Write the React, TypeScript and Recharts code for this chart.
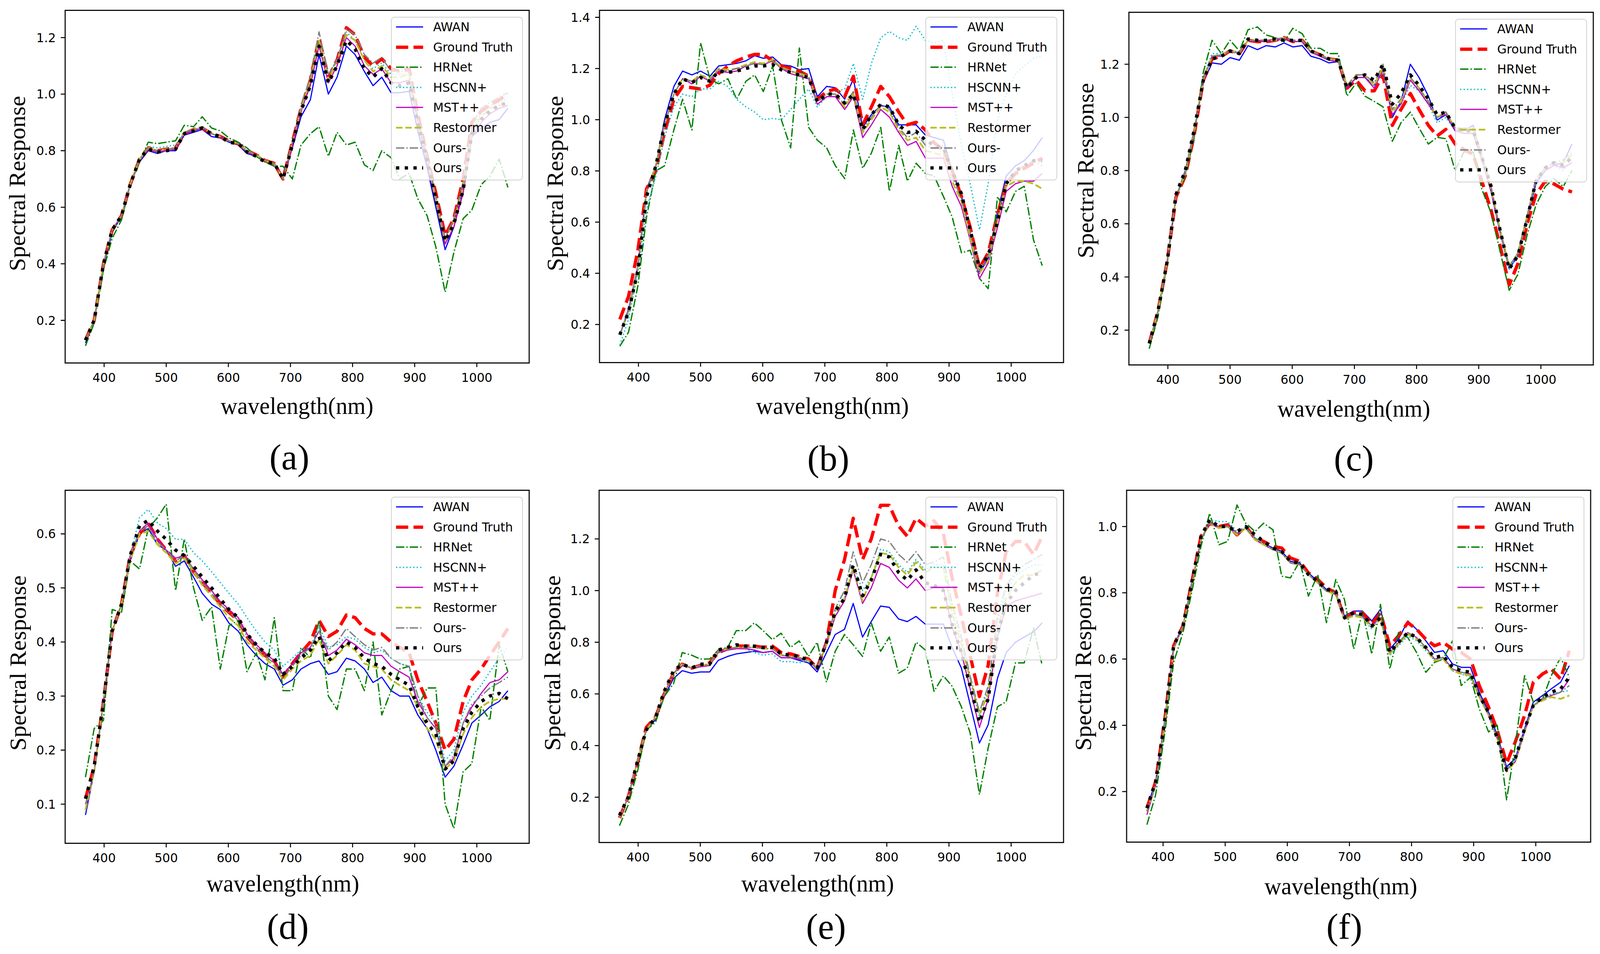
import React from 'react';
import { LineChart, Line, XAxis, YAxis } from 'recharts';

// ---------------- data ----------------
const WAVELENGTHS = [370,384,399,413,428,442,457,471,486,500,515,529,544,558,573,587,601,616,630,645,659,674,688,703,717,732,746,761,775,790,804,819,833,847,862,876,891,905,920,934,949,963,978,992,1007,1021,1036,1050];
const WAVELENGTHS_F = [374,388,403,417,432,446,461,475,490,504,519,533,548,562,577,591,605,620,634,649,663,678,692,707,721,736,750,765,779,794,808,823,837,851,866,880,895,909,924,938,953,967,982,996,1011,1025,1040,1054];
const X_TICKS = [400,500,600,700,800,900,1000];

const SERIES_NAMES = ['AWAN','Ground Truth','HRNet','HSCNN+','MST++','Restormer','Ours-','Ours'];
const PANEL_LABELS = ['(a)','(b)','(c)','(d)','(e)','(f)'];
const X_LABEL = 'wavelength(nm)';
const Y_LABEL = 'Spectral Response';

const A_Y_TICKS = [0.2,0.4,0.6,0.8,1.0,1.2];
const B_Y_TICKS = [0.2,0.4,0.6,0.8,1.0,1.2,1.4];
const C_Y_TICKS = [0.2,0.4,0.6,0.8,1.0,1.2];
const D_Y_TICKS = [0.1,0.2,0.3,0.4,0.5,0.6];
const E_Y_TICKS = [0.2,0.4,0.6,0.8,1.0,1.2];
const F_Y_TICKS = [0.2,0.4,0.6,0.8,1.0];

// (a)
const A_AWAN = [0.12,0.20,0.39,0.51,0.57,0.68,0.76,0.80,0.79,0.80,0.80,0.855,0.865,0.875,0.85,0.845,0.83,0.82,0.79,0.78,0.76,0.755,0.70,0.81,0.92,0.98,1.14,1.00,1.06,1.17,1.14,1.08,1.03,1.06,1.005,1.005,1.01,0.87,0.74,0.60,0.45,0.53,0.66,0.85,0.88,0.90,0.91,0.95];
const A_GT = [0.13,0.20,0.40,0.52,0.57,0.68,0.77,0.81,0.80,0.805,0.81,0.86,0.875,0.88,0.86,0.85,0.835,0.825,0.80,0.785,0.765,0.755,0.70,0.83,0.95,1.05,1.20,1.06,1.12,1.235,1.21,1.13,1.10,1.125,1.09,1.08,1.09,0.93,0.78,0.65,0.50,0.56,0.70,0.90,0.94,0.96,0.98,1.00];
const A_HRNET = [0.11,0.19,0.38,0.49,0.555,0.68,0.76,0.83,0.825,0.83,0.835,0.89,0.885,0.92,0.88,0.87,0.845,0.83,0.81,0.78,0.76,0.745,0.745,0.70,0.82,0.86,0.885,0.78,0.865,0.82,0.83,0.75,0.73,0.80,0.775,0.70,0.72,0.63,0.57,0.46,0.30,0.44,0.56,0.59,0.68,0.71,0.77,0.67];
const A_HSCNN = [0.13,0.20,0.40,0.52,0.57,0.68,0.77,0.815,0.81,0.815,0.82,0.865,0.875,0.88,0.86,0.85,0.835,0.825,0.80,0.785,0.765,0.755,0.70,0.82,0.94,1.04,1.19,1.07,1.12,1.22,1.19,1.12,1.09,1.11,1.07,1.07,1.07,0.92,0.77,0.64,0.49,0.56,0.68,0.88,0.93,0.96,0.97,0.985];
const A_MST = [0.13,0.20,0.40,0.52,0.57,0.68,0.77,0.805,0.795,0.80,0.805,0.86,0.87,0.88,0.86,0.85,0.835,0.825,0.795,0.785,0.765,0.755,0.70,0.82,0.94,1.03,1.17,1.04,1.10,1.20,1.17,1.10,1.07,1.09,1.04,1.04,1.05,0.90,0.76,0.62,0.47,0.53,0.65,0.85,0.90,0.93,0.95,0.96];
const A_REST = [0.13,0.20,0.40,0.52,0.57,0.68,0.77,0.81,0.80,0.805,0.81,0.865,0.875,0.885,0.86,0.85,0.835,0.825,0.80,0.785,0.765,0.755,0.70,0.83,0.95,1.05,1.19,1.05,1.12,1.21,1.19,1.12,1.08,1.10,1.06,1.06,1.07,0.91,0.77,0.63,0.48,0.55,0.67,0.87,0.92,0.95,0.96,0.97];
const A_OURSM = [0.13,0.20,0.40,0.52,0.57,0.68,0.77,0.81,0.80,0.805,0.81,0.865,0.875,0.885,0.86,0.85,0.835,0.825,0.80,0.785,0.765,0.755,0.70,0.83,0.96,1.06,1.22,1.07,1.12,1.23,1.21,1.14,1.11,1.13,1.08,1.08,1.08,0.92,0.78,0.64,0.49,0.56,0.69,0.89,0.95,0.97,0.99,1.005];
const A_OURS = [0.13,0.20,0.40,0.52,0.57,0.68,0.77,0.805,0.795,0.80,0.805,0.86,0.87,0.88,0.86,0.85,0.83,0.825,0.795,0.78,0.76,0.755,0.70,0.82,0.94,1.03,1.17,1.04,1.10,1.19,1.16,1.09,1.06,1.09,1.04,1.03,1.04,0.90,0.77,0.63,0.48,0.54,0.66,0.86,0.91,0.94,0.96,0.97];

// (b)
const B_AWAN = [0.16,0.26,0.43,0.73,0.82,1.00,1.13,1.19,1.175,1.19,1.17,1.21,1.215,1.22,1.23,1.25,1.24,1.245,1.215,1.21,1.195,1.20,1.09,1.13,1.125,1.08,1.16,0.97,1.02,1.055,1.05,0.98,0.98,0.98,0.94,0.93,0.92,0.80,0.70,0.56,0.40,0.46,0.64,0.78,0.82,0.84,0.88,0.93];
const B_GT = [0.22,0.31,0.49,0.73,0.80,0.95,1.08,1.13,1.125,1.12,1.135,1.18,1.21,1.23,1.245,1.255,1.255,1.23,1.21,1.20,1.19,1.17,1.08,1.11,1.12,1.09,1.17,0.98,1.05,1.13,1.09,1.03,0.98,0.99,0.96,0.91,0.88,0.80,0.70,0.58,0.42,0.48,0.63,0.75,0.79,0.81,0.83,0.85];
const B_HRNET = [0.115,0.17,0.35,0.62,0.80,0.82,0.96,1.08,0.96,1.30,1.16,1.14,1.16,1.08,1.15,1.175,1.11,1.21,1.00,0.89,1.28,0.97,0.92,0.89,0.82,0.77,0.96,0.81,0.87,0.97,0.72,0.90,0.76,0.83,0.79,0.78,0.70,0.62,0.48,0.49,0.38,0.34,0.70,0.64,0.72,0.74,0.53,0.43];
const B_HSCNN = [0.12,0.22,0.40,0.65,0.78,0.93,1.05,1.10,1.09,1.12,1.12,1.15,1.13,1.08,1.05,1.03,1.00,1.005,1.00,1.04,1.08,1.12,1.05,1.09,1.11,1.12,1.22,1.08,1.22,1.32,1.345,1.32,1.31,1.365,1.31,1.30,1.31,1.10,0.90,0.75,0.57,0.75,1.00,1.10,1.18,1.21,1.24,1.25];
const B_MST = [0.16,0.25,0.42,0.72,0.82,0.98,1.10,1.16,1.14,1.17,1.15,1.19,1.185,1.19,1.21,1.22,1.215,1.23,1.20,1.18,1.17,1.16,1.06,1.09,1.09,1.04,1.09,0.93,0.98,1.04,1.01,0.95,0.90,0.915,0.85,0.85,0.85,0.74,0.66,0.53,0.38,0.44,0.58,0.72,0.75,0.76,0.76,0.79];
const B_REST = [0.16,0.25,0.42,0.72,0.82,0.98,1.10,1.16,1.15,1.175,1.16,1.20,1.195,1.20,1.215,1.225,1.22,1.235,1.205,1.19,1.18,1.17,1.07,1.10,1.10,1.05,1.10,0.95,1.00,1.05,1.03,0.96,0.92,0.93,0.88,0.87,0.86,0.76,0.68,0.54,0.40,0.45,0.60,0.74,0.76,0.76,0.75,0.73];
const B_OURSM = [0.16,0.25,0.42,0.72,0.82,0.98,1.10,1.16,1.15,1.17,1.155,1.195,1.19,1.20,1.21,1.22,1.215,1.23,1.20,1.19,1.175,1.165,1.07,1.10,1.10,1.06,1.11,0.96,1.01,1.06,1.04,0.97,0.93,0.95,0.90,0.89,0.90,0.78,0.69,0.56,0.41,0.47,0.62,0.76,0.80,0.82,0.84,0.82];
const B_OURS = [0.16,0.25,0.41,0.70,0.82,0.98,1.10,1.16,1.145,1.165,1.15,1.19,1.185,1.19,1.20,1.21,1.21,1.215,1.195,1.185,1.175,1.165,1.07,1.10,1.10,1.065,1.10,0.96,1.02,1.06,1.05,0.98,0.95,0.955,0.92,0.90,0.89,0.80,0.71,0.57,0.42,0.47,0.60,0.75,0.80,0.82,0.84,0.84];

// (c)
const C_AWAN = [0.15,0.27,0.46,0.70,0.80,0.95,1.13,1.205,1.20,1.225,1.215,1.27,1.255,1.27,1.265,1.28,1.265,1.27,1.23,1.22,1.205,1.21,1.11,1.15,1.15,1.12,1.18,1.00,1.06,1.20,1.15,1.08,0.99,1.01,0.95,0.95,0.97,0.85,0.72,0.57,0.43,0.48,0.62,0.75,0.80,0.82,0.83,0.90];
const C_GT = [0.15,0.27,0.46,0.70,0.78,0.93,1.14,1.22,1.23,1.25,1.24,1.29,1.285,1.285,1.29,1.30,1.285,1.29,1.25,1.235,1.22,1.215,1.11,1.14,1.10,1.10,1.16,0.97,1.03,1.09,1.03,0.97,0.93,0.955,0.90,0.88,0.86,0.76,0.65,0.52,0.37,0.45,0.60,0.71,0.76,0.75,0.73,0.72];
const C_HRNET = [0.13,0.25,0.45,0.70,0.78,0.92,1.17,1.29,1.24,1.29,1.25,1.33,1.34,1.31,1.30,1.285,1.335,1.315,1.26,1.26,1.24,1.24,1.08,1.13,1.08,1.06,1.04,0.91,0.98,1.02,0.96,0.90,0.925,0.92,0.80,0.87,0.87,0.73,0.64,0.50,0.35,0.41,0.56,0.67,0.74,0.77,0.74,0.80];
const C_HSCNN = [0.15,0.27,0.46,0.70,0.79,0.94,1.15,1.24,1.24,1.245,1.24,1.29,1.29,1.285,1.29,1.295,1.285,1.29,1.25,1.235,1.22,1.215,1.11,1.15,1.15,1.12,1.17,1.01,1.05,1.12,1.10,1.05,0.98,1.00,0.95,0.95,0.95,0.84,0.72,0.57,0.43,0.48,0.62,0.75,0.80,0.82,0.80,0.85];
const C_MST = [0.15,0.27,0.46,0.70,0.79,0.94,1.14,1.23,1.23,1.25,1.24,1.29,1.285,1.285,1.29,1.295,1.285,1.285,1.245,1.23,1.215,1.21,1.11,1.15,1.15,1.11,1.18,1.01,1.05,1.14,1.10,1.05,1.00,1.01,0.95,0.94,0.94,0.84,0.72,0.57,0.44,0.49,0.63,0.76,0.80,0.82,0.81,0.83];
const C_REST = [0.15,0.27,0.46,0.70,0.79,0.94,1.14,1.23,1.235,1.25,1.245,1.29,1.29,1.29,1.29,1.30,1.29,1.29,1.25,1.235,1.22,1.215,1.12,1.16,1.16,1.12,1.19,1.02,1.06,1.15,1.11,1.06,1.00,1.02,0.96,0.955,0.96,0.85,0.73,0.58,0.44,0.49,0.63,0.77,0.81,0.83,0.83,0.86];
const C_OURSM = [0.15,0.27,0.46,0.70,0.79,0.94,1.14,1.23,1.235,1.25,1.245,1.29,1.29,1.29,1.295,1.30,1.29,1.29,1.25,1.235,1.22,1.215,1.12,1.16,1.16,1.13,1.20,1.03,1.07,1.15,1.11,1.06,1.00,1.02,0.96,0.96,0.96,0.86,0.74,0.58,0.44,0.49,0.63,0.77,0.81,0.83,0.84,0.87];
const C_OURS = [0.15,0.27,0.46,0.71,0.80,0.95,1.14,1.22,1.23,1.25,1.24,1.295,1.29,1.29,1.295,1.29,1.29,1.29,1.25,1.235,1.22,1.215,1.11,1.15,1.16,1.14,1.20,1.05,1.09,1.16,1.12,1.07,1.01,1.02,0.96,0.95,0.95,0.85,0.74,0.58,0.43,0.48,0.62,0.76,0.81,0.83,0.82,0.85];

// (d)
const D_AWAN = [0.08,0.16,0.29,0.42,0.47,0.55,0.60,0.61,0.58,0.57,0.54,0.55,0.52,0.49,0.47,0.46,0.435,0.42,0.395,0.375,0.36,0.35,0.32,0.33,0.35,0.36,0.365,0.34,0.345,0.37,0.365,0.35,0.325,0.335,0.31,0.30,0.30,0.265,0.24,0.20,0.15,0.17,0.21,0.25,0.265,0.28,0.29,0.31];
const D_GT = [0.11,0.17,0.29,0.42,0.47,0.56,0.60,0.62,0.59,0.57,0.55,0.56,0.53,0.51,0.49,0.47,0.455,0.44,0.41,0.39,0.375,0.365,0.335,0.36,0.38,0.40,0.44,0.41,0.42,0.45,0.445,0.425,0.415,0.415,0.40,0.39,0.38,0.33,0.29,0.25,0.20,0.22,0.29,0.33,0.35,0.375,0.40,0.425];
const D_HRNET = [0.15,0.24,0.255,0.46,0.455,0.55,0.535,0.61,0.63,0.655,0.495,0.59,0.50,0.44,0.465,0.35,0.43,0.44,0.345,0.38,0.33,0.445,0.31,0.31,0.39,0.37,0.44,0.30,0.275,0.35,0.35,0.31,0.40,0.265,0.31,0.35,0.355,0.28,0.315,0.315,0.10,0.055,0.16,0.175,0.28,0.255,0.395,0.345];
const D_HSCNN = [0.10,0.16,0.29,0.42,0.47,0.56,0.63,0.645,0.62,0.61,0.59,0.59,0.565,0.55,0.53,0.51,0.49,0.47,0.445,0.42,0.40,0.385,0.355,0.37,0.385,0.39,0.43,0.39,0.395,0.41,0.405,0.39,0.38,0.385,0.37,0.36,0.355,0.30,0.27,0.25,0.18,0.20,0.27,0.30,0.32,0.345,0.37,0.39];
const D_MST = [0.09,0.16,0.29,0.42,0.47,0.56,0.605,0.62,0.59,0.57,0.555,0.56,0.535,0.515,0.495,0.475,0.46,0.445,0.415,0.395,0.38,0.365,0.34,0.36,0.38,0.39,0.42,0.375,0.385,0.405,0.395,0.38,0.375,0.375,0.355,0.345,0.335,0.29,0.26,0.24,0.17,0.185,0.25,0.28,0.305,0.325,0.33,0.345];
const D_REST = [0.09,0.16,0.29,0.42,0.47,0.55,0.60,0.605,0.58,0.565,0.545,0.555,0.53,0.505,0.485,0.465,0.445,0.43,0.40,0.385,0.37,0.355,0.33,0.35,0.365,0.375,0.405,0.36,0.375,0.395,0.385,0.36,0.355,0.35,0.33,0.32,0.31,0.28,0.24,0.22,0.165,0.18,0.23,0.26,0.28,0.29,0.295,0.295];
const D_OURSM = [0.10,0.16,0.29,0.42,0.47,0.56,0.605,0.615,0.585,0.57,0.55,0.56,0.535,0.51,0.49,0.47,0.455,0.44,0.41,0.39,0.375,0.36,0.335,0.355,0.375,0.39,0.42,0.385,0.40,0.425,0.41,0.395,0.385,0.39,0.37,0.36,0.355,0.30,0.26,0.24,0.17,0.19,0.25,0.285,0.30,0.315,0.325,0.335];
const D_OURS = [0.11,0.17,0.29,0.42,0.47,0.56,0.615,0.625,0.605,0.59,0.57,0.56,0.54,0.52,0.50,0.48,0.46,0.445,0.415,0.395,0.38,0.37,0.34,0.355,0.37,0.385,0.41,0.365,0.38,0.40,0.39,0.37,0.36,0.355,0.34,0.33,0.32,0.28,0.25,0.23,0.165,0.18,0.24,0.27,0.29,0.30,0.305,0.295];

// (e)
const E_AWAN = [0.12,0.20,0.34,0.46,0.50,0.59,0.66,0.69,0.68,0.685,0.685,0.73,0.745,0.755,0.76,0.765,0.76,0.765,0.74,0.74,0.73,0.72,0.685,0.76,0.83,0.85,0.95,0.82,0.88,0.94,0.935,0.89,0.88,0.90,0.87,0.87,0.87,0.78,0.70,0.56,0.41,0.48,0.66,0.76,0.80,0.82,0.84,0.875];
const E_GT = [0.12,0.20,0.33,0.47,0.51,0.60,0.68,0.715,0.70,0.71,0.72,0.76,0.775,0.785,0.785,0.785,0.78,0.785,0.76,0.755,0.745,0.735,0.70,0.80,1.00,1.12,1.28,1.12,1.20,1.33,1.33,1.25,1.21,1.28,1.25,1.27,1.22,1.05,0.90,0.75,0.59,0.71,0.99,1.15,1.19,1.19,1.14,1.21];
const E_HRNET = [0.09,0.17,0.30,0.46,0.49,0.59,0.64,0.76,0.75,0.735,0.735,0.77,0.78,0.845,0.845,0.875,0.845,0.81,0.835,0.78,0.805,0.745,0.80,0.645,0.765,0.83,0.79,0.745,0.875,0.765,0.82,0.68,0.70,0.80,0.77,0.61,0.67,0.63,0.55,0.45,0.21,0.39,0.55,0.57,0.72,0.72,0.855,0.71];
const E_HSCNN = [0.12,0.20,0.34,0.46,0.51,0.60,0.68,0.71,0.70,0.705,0.715,0.76,0.77,0.775,0.775,0.76,0.75,0.755,0.725,0.725,0.72,0.73,0.70,0.80,0.92,0.97,1.10,1.00,1.05,1.16,1.15,1.10,1.07,1.12,1.08,1.10,1.10,0.92,0.80,0.65,0.51,0.62,0.88,1.00,1.06,1.08,1.10,1.10];
const E_MST = [0.12,0.20,0.34,0.46,0.51,0.60,0.68,0.71,0.70,0.705,0.71,0.76,0.77,0.775,0.775,0.77,0.76,0.765,0.74,0.74,0.735,0.73,0.695,0.79,0.90,0.96,1.08,0.95,1.01,1.105,1.09,1.04,1.01,1.045,1.00,1.01,1.01,0.86,0.76,0.62,0.47,0.58,0.82,0.94,0.96,0.97,0.98,0.99];
const E_REST = [0.12,0.20,0.34,0.46,0.51,0.60,0.68,0.715,0.70,0.71,0.715,0.765,0.775,0.78,0.78,0.78,0.775,0.775,0.75,0.745,0.74,0.73,0.70,0.79,0.91,0.97,1.09,0.96,1.05,1.145,1.14,1.09,1.06,1.11,1.07,1.09,1.09,0.91,0.79,0.66,0.52,0.60,0.85,0.97,1.03,1.06,1.06,1.08];
const E_OURSM = [0.12,0.20,0.34,0.46,0.51,0.60,0.68,0.715,0.70,0.71,0.715,0.765,0.775,0.78,0.78,0.78,0.775,0.775,0.75,0.745,0.74,0.73,0.70,0.80,0.93,1.00,1.15,1.03,1.10,1.20,1.19,1.14,1.11,1.15,1.10,1.11,1.13,0.95,0.82,0.67,0.53,0.63,0.90,1.02,1.07,1.10,1.12,1.14];
const E_OURS = [0.13,0.20,0.34,0.46,0.51,0.61,0.69,0.715,0.70,0.715,0.715,0.77,0.78,0.79,0.785,0.785,0.78,0.78,0.755,0.75,0.745,0.73,0.70,0.80,0.92,0.97,1.10,0.98,1.04,1.14,1.13,1.07,1.04,1.08,1.03,1.02,1.00,0.87,0.76,0.63,0.49,0.58,0.83,0.95,1.00,1.03,1.06,1.07];

// (f)
const F_AWAN = [0.15,0.23,0.42,0.64,0.70,0.83,0.96,1.01,1.00,1.005,0.98,0.995,0.965,0.95,0.935,0.925,0.895,0.89,0.86,0.835,0.81,0.80,0.73,0.745,0.745,0.715,0.75,0.63,0.66,0.715,0.69,0.655,0.62,0.625,0.585,0.575,0.575,0.50,0.44,0.37,0.275,0.30,0.39,0.47,0.49,0.51,0.53,0.58];
const F_GT = [0.15,0.23,0.42,0.64,0.70,0.83,0.97,1.01,1.00,1.005,0.975,1.00,0.965,0.955,0.94,0.935,0.905,0.895,0.86,0.84,0.815,0.80,0.725,0.74,0.74,0.705,0.74,0.64,0.67,0.71,0.69,0.66,0.64,0.65,0.63,0.62,0.60,0.52,0.455,0.385,0.285,0.35,0.43,0.53,0.555,0.57,0.54,0.625];
const F_HRNET = [0.10,0.19,0.38,0.59,0.68,0.80,0.94,1.04,0.945,0.955,1.065,1.01,0.985,1.01,0.99,0.85,0.845,0.895,0.79,0.855,0.71,0.84,0.78,0.63,0.745,0.615,0.765,0.57,0.68,0.665,0.62,0.56,0.59,0.60,0.655,0.52,0.545,0.45,0.38,0.40,0.175,0.34,0.55,0.47,0.48,0.55,0.605,0.545];
const F_HSCNN = [0.14,0.22,0.41,0.63,0.70,0.82,0.96,1.02,1.015,1.015,0.985,1.00,0.965,0.945,0.93,0.92,0.89,0.885,0.855,0.83,0.805,0.80,0.72,0.73,0.725,0.69,0.725,0.61,0.64,0.67,0.655,0.625,0.595,0.60,0.565,0.555,0.545,0.485,0.43,0.36,0.27,0.295,0.38,0.46,0.48,0.495,0.50,0.505];
const F_MST = [0.13,0.22,0.41,0.63,0.70,0.82,0.96,1.01,0.995,1.00,0.975,0.995,0.96,0.945,0.93,0.92,0.89,0.885,0.855,0.83,0.805,0.795,0.72,0.735,0.73,0.70,0.725,0.62,0.65,0.68,0.665,0.635,0.60,0.605,0.57,0.56,0.555,0.49,0.43,0.36,0.265,0.29,0.38,0.46,0.48,0.49,0.50,0.54];
const F_REST = [0.14,0.22,0.41,0.63,0.70,0.82,0.96,1.01,0.995,1.00,0.975,0.995,0.96,0.945,0.93,0.92,0.89,0.885,0.855,0.83,0.805,0.795,0.72,0.73,0.725,0.695,0.72,0.615,0.645,0.675,0.66,0.63,0.595,0.60,0.565,0.555,0.55,0.485,0.43,0.36,0.26,0.29,0.38,0.46,0.475,0.485,0.48,0.49];
const F_OURSM = [0.14,0.22,0.41,0.63,0.70,0.82,0.96,1.01,1.00,1.00,0.98,0.995,0.965,0.95,0.93,0.92,0.89,0.885,0.855,0.83,0.805,0.80,0.72,0.735,0.73,0.70,0.725,0.62,0.65,0.68,0.665,0.635,0.60,0.605,0.57,0.56,0.555,0.49,0.435,0.36,0.265,0.295,0.385,0.46,0.48,0.49,0.50,0.52];
const F_OURS = [0.15,0.23,0.42,0.64,0.70,0.83,0.97,1.02,1.00,1.00,0.985,1.00,0.975,0.955,0.935,0.925,0.895,0.89,0.855,0.835,0.81,0.805,0.725,0.74,0.735,0.70,0.725,0.62,0.65,0.68,0.665,0.635,0.605,0.61,0.575,0.565,0.56,0.49,0.44,0.36,0.265,0.30,0.39,0.46,0.485,0.50,0.51,0.545];

// ---------------- styles ----------------
const SERIES_KEYS = ['awan','gt','hrnet','hscnn','mst','restormer','oursMinus','ours'];
const SERIES_STYLE = [
  { color: '#0000ff', width: 3, dash: undefined },
  { color: '#ff0000', width: 8.6, dash: '32 13.8' },
  { color: '#008000', width: 3.4, dash: '21.8 5.4 3.4 5.4' },
  { color: '#17becf', width: 3.4, dash: '3.4 5.6' },
  { color: '#bf00bf', width: 3, dash: undefined },
  { color: '#bcbd22', width: 4.6, dash: '17 7.4' },
  { color: '#808080', width: 3.4, dash: '21.8 5.4 3.4 5.4' },
  { color: '#000000', width: 8.6, dash: '8.6 14.2' },
];

const PANEL_SERIES = [
  [A_AWAN, A_GT, A_HRNET, A_HSCNN, A_MST, A_REST, A_OURSM, A_OURS],
  [B_AWAN, B_GT, B_HRNET, B_HSCNN, B_MST, B_REST, B_OURSM, B_OURS],
  [C_AWAN, C_GT, C_HRNET, C_HSCNN, C_MST, C_REST, C_OURSM, C_OURS],
  [D_AWAN, D_GT, D_HRNET, D_HSCNN, D_MST, D_REST, D_OURSM, D_OURS],
  [E_AWAN, E_GT, E_HRNET, E_HSCNN, E_MST, E_REST, E_OURSM, E_OURS],
  [F_AWAN, F_GT, F_HRNET, F_HSCNN, F_MST, F_REST, F_OURSM, F_OURS],
];
const PANEL_X = [WAVELENGTHS, WAVELENGTHS, WAVELENGTHS, WAVELENGTHS, WAVELENGTHS, WAVELENGTHS_F];
const PANEL_Y_TICKS = [A_Y_TICKS, B_Y_TICKS, C_Y_TICKS, D_Y_TICKS, E_Y_TICKS, F_Y_TICKS];

// layout (pixels)
const LAYOUT = [
  { left: 170, top: 26, w: 1214, h: 903, yDom: [0.05, 1.297], xDom: [337, 1084], yl: [45, 470], xl: [777, 1040], sl: [757, 1170] },
  { left: 1568, top: 26, w: 1214, h: 902, yDom: [0.052, 1.428], xDom: [337, 1084], yl: [1453, 470], xl: [2178, 1040], sl: [2167, 1173] },
  { left: 2953, top: 31, w: 1215, h: 903, yDom: [0.07, 1.396], xDom: [337, 1084], yl: [2840, 437], xl: [3542, 1047], sl: [3542, 1173] },
  { left: 170, top: 1255, w: 1214, h: 904, yDom: [0.028, 0.681], xDom: [337, 1084], yl: [47, 1698], xl: [740, 2263], sl: [753, 2372] },
  { left: 1567, top: 1255, w: 1215, h: 902, yDom: [0.0255, 1.389], xDom: [337, 1084], yl: [1446, 1698], xl: [2139, 2263], sl: [2161, 2372] },
  { left: 2947, top: 1255, w: 1214, h: 901, yDom: [0.048, 1.11], xDom: [341, 1088], yl: [2834, 1698], xl: [3508, 2270], sl: [3517, 2372] },
];

const PAGE_W = 4186;
const PAGE_H = 2443;
const YAXIS_W = 160;
const XAXIS_H = 80;
const TICK_FONT = { fontSize: 32, fill: '#000', fontFamily: 'DejaVu Sans' };
const SERIF = '"Liberation Serif", "Times New Roman", serif';

if (typeof document !== 'undefined') {
  document.documentElement.style.overflow = 'hidden';
  document.body.style.overflow = 'hidden';
  document.body.style.margin = '0';
}

function LegendBox({ right, top }: { right: number; top: number }) {
  const W = 345, H = 419;
  return (
    <div style={{ position: 'absolute', left: right - 16 - W, top: top + 17, width: W, height: H, boxSizing: 'border-box',
      background: 'rgba(255,255,255,0.8)', border: '2.5px solid #d0d0d0', borderRadius: 9 }}>
      {SERIES_NAMES.map((name, i) => {
        const st = SERIES_STYLE[i];
        const cy = 24 + i * 51.6;
        return (
          <div key={name} style={{ position: 'absolute', left: 0, top: cy - 20, height: 40, width: W - 6 }}>
            <svg width={80} height={40} style={{ position: 'absolute', left: 11, top: 0 }}>
              <line x1={0} x2={71} y1={20} y2={20} stroke={st.color} strokeWidth={st.width} strokeDasharray={st.dash} />
            </svg>
            <span style={{ position: 'absolute', left: 108, top: 0, lineHeight: '40px', fontSize: 32, fontFamily: 'DejaVu Sans', color: '#000', whiteSpace: 'nowrap' }}>{name}</span>
          </div>
        );
      })}
    </div>
  );
}

function Panel({ index }: { index: number }) {
  const L = LAYOUT[index];
  const xs = PANEL_X[index];
  const series = PANEL_SERIES[index];
  const rows = xs.map((w, i) => {
    const r: any = { w };
    SERIES_KEYS.forEach((k, s) => { r[k] = series[s][i]; });
    return r;
  });
  return (
    <>
      <div style={{ position: 'absolute', left: L.left - YAXIS_W, top: L.top }}>
        <LineChart width={L.w + YAXIS_W} height={L.h + XAXIS_H} data={rows} margin={{ top: 0, right: 0, bottom: 0, left: 0 }}>
          <XAxis dataKey="w" type="number" domain={L.xDom} ticks={X_TICKS} allowDataOverflow interval={0}
            height={XAXIS_H} axisLine={false} tickSize={11} tickMargin={15}
            tickLine={{ stroke: '#000', strokeWidth: 2.6 }} tick={TICK_FONT} />
          <YAxis type="number" domain={L.yDom} ticks={PANEL_Y_TICKS[index]} allowDataOverflow interval={0}
            width={YAXIS_W} axisLine={false} tickSize={11} tickMargin={13}
            tickLine={{ stroke: '#000', strokeWidth: 2.6 }} tick={TICK_FONT}
            tickFormatter={(v: number) => v.toFixed(1)} />
          {SERIES_KEYS.map((k, s) => (
            <Line key={k} dataKey={k} name={SERIES_NAMES[s]} type="linear" dot={false} activeDot={false}
              stroke={SERIES_STYLE[s].color} strokeWidth={SERIES_STYLE[s].width}
              strokeDasharray={SERIES_STYLE[s].dash} strokeLinejoin="round"
              isAnimationActive={false} />
          ))}
        </LineChart>
      </div>
      <div style={{ position: 'absolute', left: L.left - 1.5, top: L.top - 1.5, width: L.w + 3, height: L.h + 3,
        border: '3px solid #111', boxSizing: 'border-box', pointerEvents: 'none' }} />
      <LegendBox right={L.left + L.w} top={L.top} />
      <div style={{ position: 'absolute', left: L.yl[0] - 400, top: L.yl[1] - 40, width: 800, height: 80,
        transform: 'rotate(-90deg)', textAlign: 'center', lineHeight: '80px', fontSize: 61, fontFamily: SERIF, color: '#000', whiteSpace: 'nowrap' }}>
        {Y_LABEL}
      </div>
      <div style={{ position: 'absolute', left: L.xl[0] - 400, top: L.xl[1] - 40, width: 800, height: 80,
        textAlign: 'center', lineHeight: '80px', fontSize: 61, fontFamily: SERIF, color: '#000', whiteSpace: 'nowrap' }}>
        {X_LABEL}
      </div>
      <div style={{ position: 'absolute', left: L.sl[0] - 200, top: L.sl[1] - 60, width: 400, height: 120,
        textAlign: 'center', lineHeight: '120px', fontSize: 94, fontFamily: SERIF, color: '#000', whiteSpace: 'nowrap' }}>
        {PANEL_LABELS[index]}
      </div>
    </>
  );
}

export default function App() {
  const vw = typeof window !== 'undefined' ? (document.documentElement.clientWidth || window.innerWidth || PAGE_W) : PAGE_W;
  const vh = typeof window !== 'undefined' ? (document.documentElement.clientHeight || window.innerHeight || PAGE_H) : PAGE_H;
  const sx = vw / PAGE_W;
  const sy = vh / PAGE_H;
  return (
    <div style={{ position: 'fixed', left: 0, top: 0, width: PAGE_W, height: PAGE_H, background: '#fff', overflow: 'hidden',
      transform: `scale(${sx}, ${sy})`, transformOrigin: '0 0' }}>
      {LAYOUT.map((_, i) => <Panel key={i} index={i} />)}
    </div>
  );
}
